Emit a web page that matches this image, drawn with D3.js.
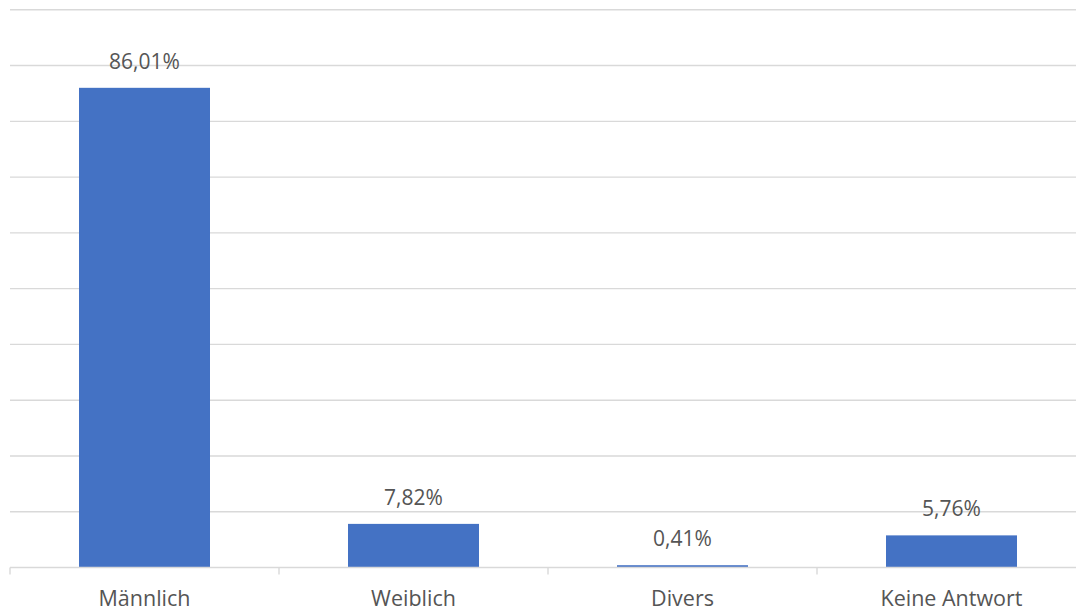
<!DOCTYPE html>
<html>
<head>
<meta charset="utf-8">
<script src="https://cdn.jsdelivr.net/npm/d3@7"></script>
<style>
  body { margin: 0; background: #fff; }
  svg { display: block; }
  text { font-family: "Open Sans", sans-serif; fill: #555555; }
</style>
</head>
<body>
<div id="chart"></div>
<script>
var categories = ["Männlich", "Weiblich", "Divers", "Keine Antwort"];
var values = [86.01, 7.82, 0.41, 5.76];
var valueLabels = ["86,01%", "7,82%", "0,41%", "5,76%"];
var gridTicks = [0, 10, 20, 30, 40, 50, 60, 70, 80, 90, 100];

var width = 1076, height = 611;
var plotLeft = 10, plotRight = 1086, plotTop = 9.8, plotBottom = 567.5;

var svg = d3.select("#chart").append("svg")
    .attr("width", width)
    .attr("height", height);

var x = d3.scaleBand()
    .domain(categories)
    .range([plotLeft, plotRight])
    .paddingInner(0.513)
    .paddingOuter(0.2565);

var y = d3.scaleLinear()
    .domain([0, 100])
    .range([plotBottom, plotTop]);

// gridlines
svg.append("g")
    .selectAll("line")
    .data(gridTicks.slice(1))
    .enter().append("line")
    .attr("x1", plotLeft)
    .attr("x2", plotRight)
    .attr("y1", function(d) { return y(d); })
    .attr("y2", function(d) { return y(d); })
    .attr("stroke", "#d9d9d9")
    .attr("stroke-width", 1.4);

// bars
svg.append("g")
    .selectAll("rect")
    .data(values)
    .enter().append("rect")
    .attr("x", function(d, i) { return x(categories[i]); })
    .attr("width", x.bandwidth())
    .attr("y", function(d) { return y(d); })
    .attr("height", function(d) { return y(0) - y(d); })
    .attr("fill", "#4472c4");

// value labels
svg.append("g")
    .selectAll("text")
    .data(values)
    .enter().append("text")
    .attr("x", function(d, i) { return x(categories[i]) + x.bandwidth() / 2; })
    .attr("y", function(d) { return y(d) - 19; })
    .attr("text-anchor", "middle")
    .style("font-size", "21px")
    .text(function(d, i) { return valueLabels[i]; });

// x axis line + ticks at category boundaries
var axis = svg.append("g");
axis.append("line")
    .attr("x1", plotLeft).attr("x2", plotRight)
    .attr("y1", y(0)).attr("y2", y(0))
    .attr("stroke", "#d9d9d9")
    .attr("stroke-width", 1.6);

var step = x.step();
axis.selectAll(".tick")
    .data(d3.range(categories.length + 1))
    .enter().append("line")
    .attr("class", "tick")
    .attr("x1", function(i) { return plotLeft + i * step; })
    .attr("x2", function(i) { return plotLeft + i * step; })
    .attr("y1", y(0))
    .attr("y2", y(0) + 7)
    .attr("stroke", "#d9d9d9")
    .attr("stroke-width", 1.4);

axis.selectAll(".cat")
    .data(categories)
    .enter().append("text")
    .attr("class", "cat")
    .attr("x", function(d) { return x(d) + x.bandwidth() / 2; })
    .attr("y", 606)
    .attr("text-anchor", "middle")
    .style("font-size", "21.5px")
    .text(function(d) { return d; });
</script>
</body>
</html>
